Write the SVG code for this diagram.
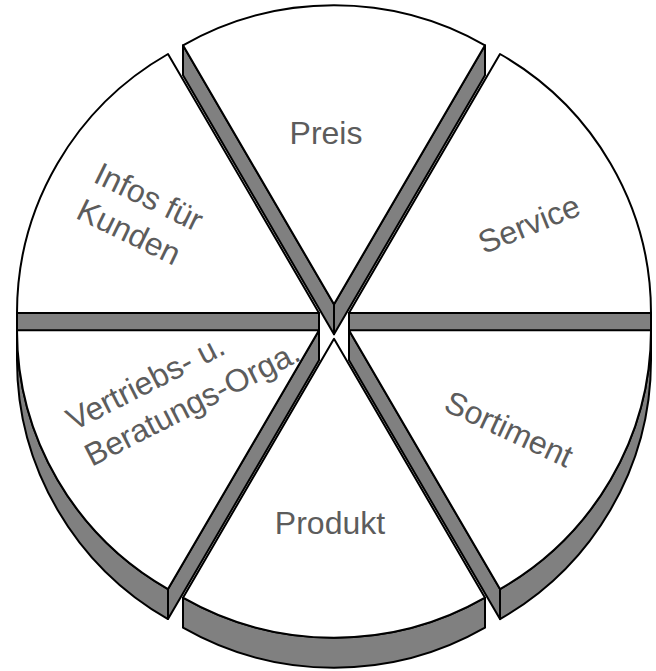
<svg xmlns="http://www.w3.org/2000/svg" width="656" height="671" viewBox="0 0 656 671">
<style>
.side{fill:#808080;stroke:#000;stroke-width:2;stroke-linejoin:round}
.top{fill:#fff;stroke:#000;stroke-width:2;stroke-linejoin:round}
.lbl{font-family:"Liberation Sans",Arial,sans-serif;font-size:32px;fill:#5c5c5c}
</style>
<rect width="656" height="671" fill="#fff"/>
<g id="slice-preis">
<path class="side" d="M334,304.2 L183,45.3 L183,75.3 L334,334.2 Z"/>
<path class="side" d="M334,304.2 L485,45.3 L485,75.3 L334,334.2 Z"/>
<path class="top" d="M334,304.2 L485,45.3 A302,299 0 0 0 183,45.3 Z"/>
<text class="lbl" x="326" y="144" text-anchor="middle">Preis</text>
</g>
<g id="slice-infos">
<path class="side" d="M319,312.9 L17,312.9 L17,342.9 L319,342.9 Z"/>
<path class="top" d="M319,312.9 L168,54 A302,299 0 0 0 17,312.9 Z"/>
<g transform="translate(149,197) rotate(26)">
<text class="lbl" x="-58" y="11">Infos für</text>
<text class="lbl" x="-58" y="51">Kunden</text>
</g>
</g>
<g id="slice-service">
<path class="side" d="M349,312.9 L651,312.9 L651,342.9 L349,342.9 Z"/>
<path class="top" d="M349,312.9 L651,312.9 A302,299 0 0 0 500,54 Z"/>
<text class="lbl" x="0" y="11" text-anchor="middle" transform="translate(529,224) rotate(-22)">Service</text>
</g>
<g id="slice-vertriebs">
<path class="side" d="M17,330.2 A302,299 0 0 0 168,589.1 L168,619.1 A302,299 0 0 1 17,360.2 Z"/>
<path class="side" d="M319,330.2 L168,589.1 L168,619.1 L319,360.2 Z"/>
<path class="top" d="M319,330.2 L17,330.2 A302,299 0 0 0 168,589.1 Z"/>
<g transform="translate(146,382) rotate(-27)">
<text class="lbl" x="-87" y="11">Vertriebs- u.</text>
<text class="lbl" x="-87" y="51">Beratungs-Orga.</text>
</g>
</g>
<g id="slice-sortiment">
<path class="side" d="M500,589.1 A302,299 0 0 0 651,330.2 L651,360.2 A302,299 0 0 1 500,619.1 Z"/>
<path class="side" d="M349,330.2 L500,589.1 L500,619.1 L349,360.2 Z"/>
<path class="top" d="M349,330.2 L500,589.1 A302,299 0 0 0 651,330.2 Z"/>
<text class="lbl" x="0" y="11" text-anchor="middle" transform="translate(509,429) rotate(25)">Sortiment</text>
</g>
<g id="slice-produkt">
<path class="side" d="M183,597.7 A302,299 0 0 0 485,597.7 L485,627.7 A302,299 0 0 1 183,627.7 Z"/>
<path class="top" d="M334,338.8 L183,597.7 A302,299 0 0 0 485,597.7 Z"/>
<text class="lbl" x="330" y="534" text-anchor="middle">Produkt</text>
</g>
</svg>
